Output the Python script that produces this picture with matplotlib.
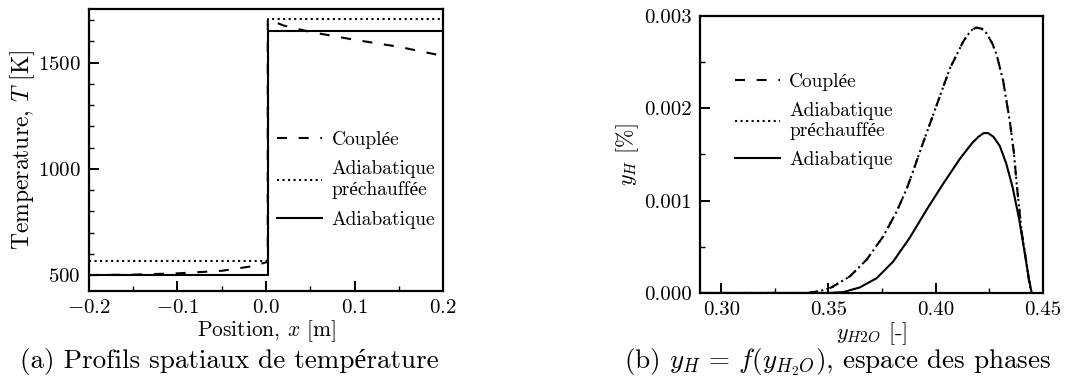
import matplotlib
matplotlib.use("Agg")
import matplotlib.pyplot as plt
from matplotlib.ticker import MultipleLocator, FormatStrFormatter

plt.rcParams['font.family'] = ['cmr10', 'Liberation Serif']
plt.rcParams['mathtext.fontset'] = 'cm'
plt.rcParams['axes.formatter.use_mathtext'] = True
plt.rcParams['axes.unicode_minus'] = True

# ---------------- data: (a) temperature profiles ----------------
x_adiab = [-0.2, 0.002, 0.002, 0.2]
T_adiab = [500, 500, 1650, 1650]

x_prech = [-0.2, 0.002, 0.002, 0.2]
T_prech = [567, 567, 1705, 1705]

x_coupl = [-0.2, -0.15, -0.1, -0.05, -0.015, 0.0, 0.002, 0.002, 0.02, 0.05, 0.1, 0.15, 0.2]
T_coupl = [500, 502, 508, 520, 542, 560, 562, 1705, 1675, 1645, 1608, 1575, 1532]

# ---------------- data: (b) phase space ----------------
yh2o_coupl = [0.29, 0.34, 0.346, 0.3514, 0.36, 0.3678, 0.3755, 0.3818, 0.3864, 0.3903,
              0.3927, 0.3989, 0.4067, 0.4129, 0.4165, 0.4189, 0.4215, 0.4238, 0.4265,
              0.4285, 0.4316, 0.4347, 0.4365, 0.4380, 0.4402, 0.4422, 0.4445]
yh_coupl = [0.0, 0.0, 0.00002, 0.00006, 0.00018, 0.00036, 0.00061, 0.00088, 0.00112, 0.00137,
            0.00153, 0.00193, 0.00243, 0.00272, 0.00284, 0.00287, 0.00286, 0.00281, 0.00270,
            0.00258, 0.00229, 0.00185, 0.00153, 0.00115, 0.00066, 0.00036, 0.0]

yh2o_prech = list(yh2o_coupl)
yh_prech = list(yh_coupl)

yh2o_adiab = [0.29, 0.35, 0.357, 0.3646, 0.3725, 0.3802, 0.388, 0.3958, 0.4035, 0.4113,
              0.4170, 0.4200, 0.4225, 0.4245, 0.4270, 0.4300, 0.4330, 0.4360, 0.4390,
              0.4415, 0.4435, 0.4449]
yh_adiab = [0.0, 0.0, 0.00001, 0.00006, 0.00016, 0.00034, 0.00060, 0.00090, 0.00118, 0.00145,
            0.00162, 0.00169, 0.00173, 0.00173, 0.00169, 0.00159, 0.00140, 0.00114, 0.00080,
            0.00045, 0.00016, 0.0]

labels = ['Couplée', 'Adiabatique\npréchauffée', 'Adiabatique']

fig = plt.figure(figsize=(10.67, 3.78), dpi=100)
axa = fig.add_axes([0.0834, 0.2302, 0.3318, 0.746])
axb = fig.add_axes([0.656, 0.2249, 0.3212, 0.7336])

lw = 1.5
dash = (0, (4.8, 5.6))

# (a)
axa.plot(x_coupl, T_coupl, color='black', lw=lw, ls=dash, label=labels[0])
axa.plot(x_prech, T_prech, color='black', lw=lw, ls=':', label=labels[1])
axa.plot(x_adiab, T_adiab, color='black', lw=lw, ls='-', label=labels[2])
axa.set_xlim(-0.2, 0.2)
axa.set_ylim(425, 1753)
axa.xaxis.set_major_locator(MultipleLocator(0.1))
axa.xaxis.set_minor_locator(MultipleLocator(0.05))
axa.yaxis.set_major_locator(MultipleLocator(500))
axa.yaxis.set_minor_locator(MultipleLocator(100))
axa.set_xlabel(r'Position, $x$ [m]', fontsize=15.5, labelpad=1)
axa.set_ylabel(r'Temperature, $T$ [K]', fontsize=17, labelpad=0.5)
axa.legend(loc='center left', bbox_to_anchor=(0.531, 0.394), frameon=False, fontsize=14,
           handlelength=2.3, handletextpad=0.5, labelspacing=0.6, borderpad=0,
           borderaxespad=0)

# (b)
axb.plot(yh2o_coupl, yh_coupl, color='black', lw=lw, ls=dash, label=labels[0])
axb.plot(yh2o_prech, yh_prech, color='black', lw=lw, ls=':', label=labels[1])
axb.plot(yh2o_adiab, yh_adiab, color='black', lw=lw, ls='-', label=labels[2])
axb.set_xlim(0.29, 0.45)
axb.set_ylim(0, 0.003)
axb.xaxis.set_major_locator(MultipleLocator(0.05))
axb.xaxis.set_minor_locator(MultipleLocator(0.025))
axb.yaxis.set_major_locator(MultipleLocator(0.001))
axb.yaxis.set_minor_locator(MultipleLocator(0.0005))
axb.xaxis.set_major_formatter(FormatStrFormatter('%.2f'))
axb.yaxis.set_major_formatter(FormatStrFormatter('%.3f'))
axb.set_xlabel(r'$y_{H2O}$ [-]', fontsize=16, labelpad=1)
axb.set_ylabel(r'$y_H$ [%]', fontsize=16, labelpad=2)
axb.legend(loc='center left', bbox_to_anchor=(0.102, 0.62), frameon=False, fontsize=14,
           handlelength=2.3, handletextpad=0.5, labelspacing=0.55, borderpad=0,
           borderaxespad=0)

for ax in (axa, axb):
    for s in ax.spines.values():
        s.set_linewidth(1.6)
    ax.tick_params(which='both', direction='in', top=False, right=False, labelsize=15)
    ax.tick_params(which='major', length=7, width=1.4, pad=6)
    ax.tick_params(which='minor', length=3.5, width=1.0)

fig.text(0.2147, 0.043, '(a) Profils spatiaux de température', ha='center', va='center',
         fontsize=19.5)
fig.text(0.785, 0.042, r'(b) $y_H\,=\,f(y_{H_2O})$, espace des phases', ha='center',
         va='center', fontsize=19.5)

fig.savefig('out.png', dpi=100)
